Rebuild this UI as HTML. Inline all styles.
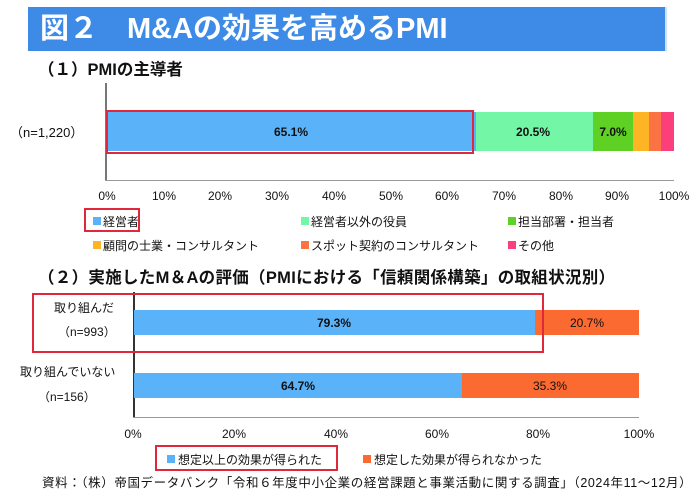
<!DOCTYPE html>
<html><head><meta charset="utf-8"><style>
body{margin:0;width:700px;height:492px;background:#fff;position:relative;overflow:hidden;font-family:"Liberation Sans","Noto Sans CJK JP",sans-serif;color:#111}
div{position:absolute}
.t{font-size:12px;white-space:nowrap}
.c{transform:translateX(-50%)}
.seg{top:0;height:100%}
.lb{font-weight:bold;font-size:12px;top:50%;transform:translate(-50%,-50%);white-space:nowrap}
.sq{width:8px;height:8px}
.rb{border:2.5px solid #e0283c;box-sizing:border-box}
</style></head><body>
<div style="left:28px;top:7px;width:637px;height:44px;background:#3d8be6;border-right:2px solid #cfe0f5"></div>
<div style="left:40px;top:8px;font-size:29px;font-weight:bold;color:#fff;line-height:42px;white-space:nowrap">図２　M&amp;Aの効果を高めるPMI</div>
<div style="left:38px;top:56px;font-size:16.5px;font-weight:bold;white-space:nowrap">（１）PMIの主導者</div>

<div style="left:105px;top:83px;width:1.5px;height:98px;background:#777"></div>
<div style="left:105px;top:180px;width:569px;height:1px;background:#999"></div>
<div style="left:107px;top:112px;width:567px;height:39px">
<div class="seg" style="left:0;width:369px;background:#5ab3f9"></div>
<div class="seg" style="left:369px;width:117px;background:#73f7a6"></div>
<div class="seg" style="left:486px;width:40px;background:#5fd024"></div>
<div class="seg" style="left:526px;width:16px;background:#fdb425"></div>
<div class="seg" style="left:542px;width:12px;background:#fb7245"></div>
<div class="seg" style="left:554px;width:13px;background:#fb3f7a"></div>
<div class="lb" style="left:184px">65.1%</div>
<div class="lb" style="left:426px">20.5%</div>
<div class="lb" style="left:506px">7.0%</div>
</div>
<div class="rb" style="left:106px;top:110px;width:368px;height:44px"></div>
<div class="t" style="left:10px;top:122px;font-size:13px">（n=1,220）</div>
<div class="t c" style="left:107px;top:189px">0%</div>
<div class="t c" style="left:164px;top:189px">10%</div>
<div class="t c" style="left:220px;top:189px">20%</div>
<div class="t c" style="left:277px;top:189px">30%</div>
<div class="t c" style="left:334px;top:189px">40%</div>
<div class="t c" style="left:391px;top:189px">50%</div>
<div class="t c" style="left:447px;top:189px">60%</div>
<div class="t c" style="left:504px;top:189px">70%</div>
<div class="t c" style="left:561px;top:189px">80%</div>
<div class="t c" style="left:617px;top:189px">90%</div>
<div class="t c" style="left:674px;top:189px">100%</div>

<div class="sq" style="left:93px;top:217px;background:#5ab3f9"></div><div class="t" style="left:103px;top:213px">経営者</div>
<div class="rb" style="left:84px;top:208px;width:56px;height:24px"></div>
<div class="sq" style="left:301px;top:217px;background:#73f7a6"></div><div class="t" style="left:311px;top:213px">経営者以外の役員</div>
<div class="sq" style="left:508px;top:217px;background:#5fd024"></div><div class="t" style="left:518px;top:213px">担当部署・担当者</div>
<div class="sq" style="left:93px;top:241px;background:#fdb425"></div><div class="t" style="left:103px;top:237px">顧問の士業・コンサルタント</div>
<div class="sq" style="left:301px;top:241px;background:#fb7245"></div><div class="t" style="left:311px;top:237px">スポット契約のコンサルタント</div>
<div class="sq" style="left:508px;top:241px;background:#fb3f7a"></div><div class="t" style="left:518px;top:237px">その他</div>

<div style="left:38px;top:264px;font-size:16.5px;font-weight:bold;white-space:nowrap;letter-spacing:0.3px">（２）実施したM＆Aの評価（PMIにおける「信頼関係構築」の取組状況別）</div>
<div style="left:133px;top:292px;width:1.5px;height:126px;background:#333"></div>
<div style="left:133px;top:417px;width:506px;height:1px;background:#999"></div>
<div style="left:134px;top:310px;width:505px;height:25px">
<div class="seg" style="left:0;width:401px;background:#5ab3f9"></div>
<div class="seg" style="left:401px;width:104px;background:#fb6a30"></div>
<div class="lb" style="left:200px">79.3%</div>
<div class="lb" style="left:453px;font-weight:normal">20.7%</div>
</div>
<div style="left:134px;top:373px;width:505px;height:25px">
<div class="seg" style="left:0;width:328px;background:#5ab3f9"></div>
<div class="seg" style="left:328px;width:177px;background:#fb6a30"></div>
<div class="lb" style="left:164px">64.7%</div>
<div class="lb" style="left:416px;font-weight:normal">35.3%</div>
</div>
<div class="rb" style="left:32px;top:293px;width:512px;height:60px"></div>
<div class="t" style="left:54px;top:299px">取り組んだ</div>
<div class="t" style="left:58px;top:323px">（n=993）</div>
<div class="t" style="left:20px;top:363px">取り組んでいない</div>
<div class="t" style="left:38px;top:388px">（n=156）</div>
<div class="t c" style="left:133px;top:427px">0%</div>
<div class="t c" style="left:234px;top:427px">20%</div>
<div class="t c" style="left:336px;top:427px">40%</div>
<div class="t c" style="left:437px;top:427px">60%</div>
<div class="t c" style="left:538px;top:427px">80%</div>
<div class="t c" style="left:639px;top:427px">100%</div>
<div class="sq" style="left:167px;top:455px;background:#5ab3f9"></div><div class="t" style="left:178px;top:451px">想定以上の効果が得られた</div>
<div class="rb" style="left:155px;top:445px;width:183px;height:26px"></div>
<div class="sq" style="left:363px;top:455px;background:#fb6a30"></div><div class="t" style="left:374px;top:451px">想定した効果が得られなかった</div>
<div class="t" style="left:42px;top:472px;font-size:12.5px;letter-spacing:0.6px">資料：（株）帝国データバンク「令和６年度中小企業の経営課題と事業活動に関する調査」（2024年11～12月）</div>
</body></html>
